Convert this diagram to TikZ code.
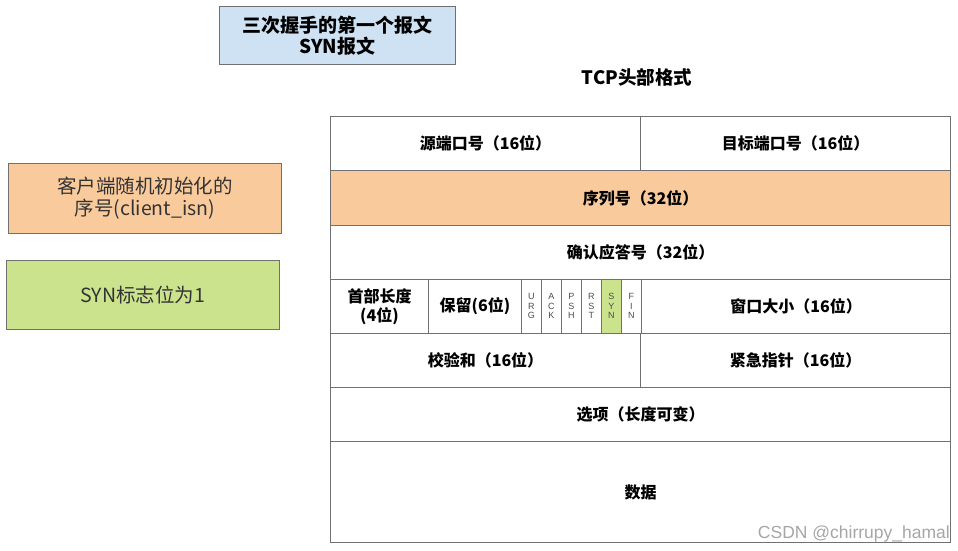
\documentclass[tikz,border=0pt]{standalone}
\usepackage{fontspec}
\setmainfont{Noto Sans CJK SC}
\newfontfamily\latinfont{Liberation Sans}
\usetikzlibrary{positioning}
\definecolor{lineC}    {HTML}{707070}
\definecolor{blueFill} {HTML}{CFE2F3}
\definecolor{peachFill}{HTML}{F9CB9C}
\definecolor{limeFill} {HTML}{CCE38E}
\definecolor{noteText} {HTML}{333333}
\tikzset{
  noteBox/.style={draw=lineC,line width=0.8pt,anchor=north west,inner sep=0pt,
    align=center,text=noteText,font=\fontsize{19.5}{22}\selectfont},
  fieldCell/.style={draw=lineC,line width=1pt,anchor=north west,inner sep=0pt,
    align=center,font=\bfseries\fontsize{16}{19}\selectfont},
  flagCell/.style={draw=lineC,line width=0.6pt,anchor=north west,inner sep=0pt,
    minimum width=20pt,minimum height=54pt,align=center,text=black!70,
    font=\latinfont\fontsize{9}{9.5}\selectfont},
}
\begin{document}
\begin{tikzpicture}[x=1pt,y=-1pt]
\useasboundingbox (0,0) rectangle (958,550);
% notes on the left
\node[noteBox,fill=blueFill,text=black,font=\bfseries\fontsize{19}{21}\selectfont,
  minimum width=236pt,minimum height=58pt] (synMsg) at (219,6) {三次握手的第一个报文\\SYN报文};
\node[noteBox,fill=peachFill,minimum width=273pt,minimum height=70pt] (isnNote) at (8,163)
  {客户端随机初始化的\\序号(client\_isn)};
\node[noteBox,fill=limeFill,minimum width=273pt,minimum height=69pt] (synNote) at (6,260)
  {SYN标志位为1};
\node[font=\bfseries\fontsize{18.5}{21}\selectfont] (hdrTitle) at (637,77) {TCP头部格式};
% header rows
\node[fieldCell,minimum width=310pt,minimum height=54pt] (srcPort) at (330,116) {源端口号（16位）};
\node[fieldCell,minimum width=310pt,minimum height=54pt] (dstPort) at (640,116) {目标端口号（16位）};
\node[fieldCell,fill=peachFill,minimum width=620pt,minimum height=55pt] (seqNum) at (330,170) {序列号（32位）};
\node[fieldCell,minimum width=620pt,minimum height=54pt] (ackNum) at (330,225) {确认应答号（32位）};
\node[fieldCell,minimum width=98pt,minimum height=54pt] (hdrLen) at (330,279) {首部长度\\(4位)};
\node[fieldCell,minimum width=93pt,minimum height=54pt] (reserved) at (428,279) {保留(6位)};
\foreach \name/\txt/\col [count=\i from 0] in
  {urg/U\\R\\G/white,ack/A\\C\\K/white,psh/P\\S\\H/white,
   rst/R\\S\\T/white,syn/S\\Y\\N/limeFill,fin/F\\I\\N/white}
  \node[flagCell,fill=\col] (\name) at ({521+20*\i},279) {\txt};
\node[fieldCell,minimum width=309pt,minimum height=54pt] (window) at (641,279) {窗口大小（16位）};
\node[fieldCell,minimum width=310pt,minimum height=54pt] (checksum) at (330,333) {校验和（16位）};
\node[fieldCell,minimum width=310pt,minimum height=54pt] (urgPtr) at (640,333) {紧急指针（16位）};
\node[fieldCell,minimum width=620pt,minimum height=54pt] (options) at (330,387) {选项（长度可变）};
\node[fieldCell,minimum width=620pt,minimum height=101pt] (payload) at (330,441) {数据};
\node[anchor=south east,inner sep=0pt,text=black!35,font=\latinfont\fontsize{17.5}{20}\selectfont]
  (mark) at (950,542) {CSDN @chirrupy\_hamal};
\end{tikzpicture}
\end{document}
